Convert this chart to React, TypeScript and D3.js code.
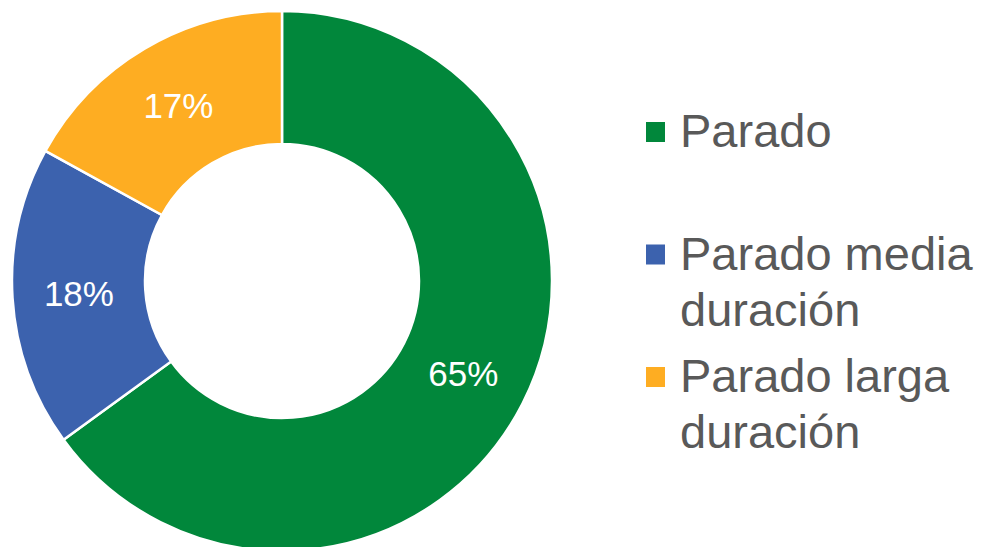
import React, { useEffect, useRef } from "react";
import * as d3 from "d3";

// Datos del gráfico
const categories = ["Parado", "Parado media duración", "Parado larga duración"];
const values = [65, 18, 17];
const colors = ["#01873B", "#3C62AE", "#FEAD22"];

export default function App() {
  const svgRef = useRef<SVGSVGElement>(null);

  useEffect(() => {
    const width = 984;
    const height = 547;
    const svg = d3.select(svgRef.current);
    svg.selectAll("*").remove();
    svg.attr("width", width).attr("height", height);

    const cx = 282;
    const cy = 281;
    const outerR = 270;
    const innerR = 137;

    const data = categories.map((c, i) => ({ name: c, value: values[i], color: colors[i] }));

    const pie = d3
      .pie<{ name: string; value: number; color: string }>()
      .value((d) => d.value)
      .sort(null);

    const arc = d3
      .arc<d3.PieArcDatum<{ name: string; value: number; color: string }>>()
      .innerRadius(innerR)
      .outerRadius(outerR);

    const total = d3.sum(values);
    const arcs = pie(data);

    const g = svg.append("g").attr("transform", `translate(${cx},${cy})`);

    g.selectAll("path")
      .data(arcs)
      .enter()
      .append("path")
      .attr("d", arc)
      .attr("fill", (d) => d.data.color)
      .attr("stroke", "#ffffff")
      .attr("stroke-width", 2.5)
      .attr("stroke-linejoin", "miter");

    // Etiquetas de porcentaje
    g.selectAll("text.pct")
      .data(arcs)
      .enter()
      .append("text")
      .attr("class", "pct")
      .attr("x", (d) => arc.centroid(d)[0])
      .attr("y", (d) => arc.centroid(d)[1])
      .attr("text-anchor", "middle")
      .attr("dominant-baseline", "central")
      .attr("fill", "#ffffff")
      .attr("font-family", "'Liberation Sans', Arial, sans-serif")
      .attr("font-size", "35px")
      .text((d) => `${Math.round((d.data.value / total) * 100)}%`);

    // Leyenda
    const legendX = 646;
    const legendTop = 132;
    const legendStep = 122.5;
    const sq = 20;
    const lineH = 56;
    const maxW = 300;

    data.forEach((d, i) => {
      const yc = legendTop + i * legendStep;
      svg
        .append("rect")
        .attr("x", legendX)
        .attr("y", yc - sq / 2)
        .attr("width", sq - 1)
        .attr("height", sq)
        .attr("fill", d.color);

      const text = svg
        .append("text")
        .attr("x", legendX + 34)
        .attr("y", yc + 15)
        .attr("fill", "#595959")
        .attr("font-family", "'Liberation Sans', Arial, sans-serif")
        .attr("font-size", "47px");

      // Ajuste de líneas por ancho
      const words = d.name.split(" ");
      let line: string[] = [];
      let lineNo = 0;
      let tspan = text.append("tspan").attr("x", legendX + 34).attr("dy", 0);
      words.forEach((w) => {
        line.push(w);
        tspan.text(line.join(" "));
        if ((tspan.node() as SVGTSpanElement).getComputedTextLength() > maxW && line.length > 1) {
          line.pop();
          tspan.text(line.join(" "));
          line = [w];
          lineNo++;
          tspan = text
            .append("tspan")
            .attr("x", legendX + 34)
            .attr("dy", lineH)
            .text(w);
        }
      });
    });
  }, []);

  return (
    <svg
      ref={svgRef}
      style={{ position: "absolute", left: 0, top: 0, display: "block", background: "#ffffff" }}
    />
  );
}
